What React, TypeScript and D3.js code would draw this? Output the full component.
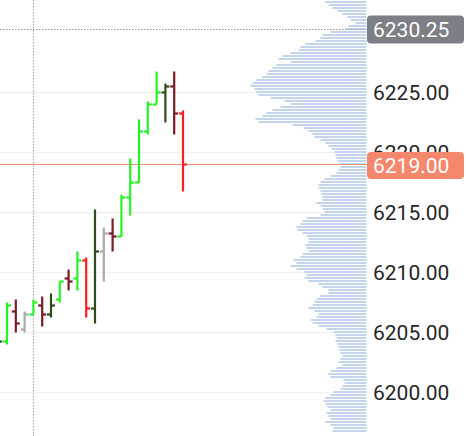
import React from "react";
import * as d3 from "d3";

const W = 466;
const H = 436;

// OHLC bars (left tick = open, right tick = close)
const opens = [6203.75, 6204.25, 6206.75, 6205.25, 6206.5, 6207.25, 6206.5, 6207.75, 6209.5, 6209.5, 6211.0, 6207.0, 6211.75, 6213.25, 6213.0, 6216.25, 6217.5, 6221.75, 6224.0, 6225.0, 6225.5, 6223.25];
const highs = [6205.0, 6207.5, 6207.75, 6206.75, 6207.75, 6208.0, 6208.25, 6209.25, 6210.25, 6211.75, 6211.25, 6215.25, 6213.75, 6214.5, 6216.5, 6219.5, 6222.75, 6224.25, 6226.75, 6225.75, 6226.75, 6223.5];
const lows = [6203.5, 6204.0, 6205.0, 6205.0, 6206.5, 6205.5, 6206.25, 6207.5, 6208.5, 6208.5, 6206.25, 6205.75, 6209.25, 6211.75, 6213.0, 6214.75, 6217.5, 6221.5, 6224.0, 6222.5, 6221.5, 6216.75];
const closes = [6204.25, 6207.25, 6205.75, 6206.5, 6207.5, 6206.5, 6207.25, 6209.25, 6209.25, 6211.0, 6207.0, 6211.75, 6213.25, 6213.0, 6216.25, 6217.5, 6221.75, 6224.0, 6225.0, 6225.5, 6223.25, 6219.0];
const barKinds = ["upWeak", "up", "downWeak", "neutral", "up", "downWeak", "upWeak", "up", "downWeak", "up", "down", "upWeak", "neutral", "downWeak", "up", "up", "up", "up", "up", "upWeak", "downWeak", "down"];

// Price axis
const priceTicks = [6200, 6205, 6210, 6215, 6220, 6225];
const lastPrice = 6219.0;
const crosshairPrice = 6230.25;
const crosshairBar = 4;

// Volume profile (one row per 0.25 point, from the top price down)
const profileTop = 6232.75;
const profileStep = 0.25;
const profileVolumes = [
  44, 41, 38, 34, 29, 24, 19, 16, 11, 18, 21, 36, 44, 46, 51, 61, 66, 68, 76, 84,
  88, 76, 90, 94, 98, 100, 104, 110, 114, 116, 112, 110, 108, 96, 82, 76, 86, 94, 100, 104,
  111, 108, 74, 63, 58, 54, 52, 46, 41, 38, 35, 32, 31, 30, 29, 27, 26, 28, 30, 36,
  42, 46, 48, 48, 46, 45, 44, 44, 50, 46, 44, 42, 46, 60, 64, 66, 70, 69, 64, 60,
  58, 58, 61, 60, 58, 64, 66, 73, 70, 76, 70, 62, 60, 62, 58, 48, 44, 38, 38, 46,
  50, 52, 54, 58, 52, 48, 50, 56, 54, 48, 40, 33, 31, 30, 31, 29, 28, 27, 26, 24,
  26, 28, 24, 30, 36, 38, 36, 23, 22, 24, 26, 33, 36, 41, 43, 41, 39, 36, 40, 38,
  36, 41, 36, 33, 34,
];

const colors: Record<string, string> = {
  up: "#27f227",
  upWeak: "#2f4b1c",
  down: "#ff1f1f",
  downWeak: "#7b1b27",
  neutral: "#a9a9a9",
};

export default function App() {
  const y = d3.scaleLinear().domain([6200, 6225]).range([392.5, 92.5]);
  const x = d3.scaleLinear().domain([0, 21]).range([-1.8, 183]);
  const plotRight = 366.5;
  const vx = d3.scaleLinear().domain([0, 120]).range([0, 120]);
  const tick = 4;
  const font = "Roboto, 'Noto Sans', sans-serif";

  return (
    <svg
      width={W}
      height={H}
      style={{ position: "absolute", left: 0, top: 0, background: "#fff" }}
    >
      {/* grid */}
      {priceTicks.map((p) => (
        <line key={"g" + p} x1={0} x2={plotRight} y1={y(p)} y2={y(p)} stroke="#f0f0f0" strokeWidth={1} />
      ))}

      {/* volume profile */}
      {profileVolumes.map((v, i) => {
        const p = profileTop - i * profileStep;
        const len = vx(v);
        return (
          <rect
            key={"v" + i}
            x={plotRight - len}
            y={y(p) - 1.5}
            width={len}
            height={2}
            fill="#c3d5ed"
          />
        );
      })}

      {/* crosshair */}
      <line x1={x(crosshairBar)} x2={x(crosshairBar)} y1={0} y2={H} stroke="#9c9c9c" strokeWidth={1} strokeDasharray="1.5 1.5" />
      <line x1={0} x2={plotRight} y1={y(crosshairPrice)} y2={y(crosshairPrice)} stroke="#9c9c9c" strokeWidth={1} strokeDasharray="1.5 1.5" />

      {/* last price line */}
      <line x1={0} x2={plotRight} y1={y(lastPrice)} y2={y(lastPrice)} stroke="#f1937b" strokeWidth={1.2} />

      {/* OHLC bars */}
      {opens.map((o, i) => {
        const cx = x(i);
        const c = colors[barKinds[i]];
        return (
          <g key={"b" + i} stroke={c} strokeWidth={2.2}>
            <line x1={cx} x2={cx} y1={y(highs[i])} y2={y(lows[i])} />
            <line x1={cx - tick} x2={cx} y1={y(o)} y2={y(o)} />
            <line x1={cx} x2={cx + tick} y1={y(closes[i])} y2={y(closes[i])} />
          </g>
        );
      })}

      {/* axis labels */}
      {priceTicks.map((p) => (
        <text
          key={"t" + p}
          x={373}
          y={y(p)}
          dy="0.36em"
          fontFamily={font}
          fontSize={21}
          fill="#262626"
        >
          {d3.format(".2f")(p)}
        </text>
      ))}

      {/* crosshair price box */}
      <rect x={367} y={y(crosshairPrice) - 14} width={97} height={28} rx={4} fill="#7c7f85" />
      <text x={373} y={y(crosshairPrice)} dy="0.36em" fontFamily={font} fontSize={21} fill="#fff">
        {d3.format(".2f")(crosshairPrice)}
      </text>

      {/* last price box */}
      <rect x={367} y={y(lastPrice) - 12.5} width={97} height={27} rx={4} fill="#f4876c" />
      <text x={373} y={y(lastPrice) + 1} dy="0.36em" fontFamily={font} fontSize={21} fill="#fff">
        {d3.format(".2f")(lastPrice)}
      </text>
    </svg>
  );
}
